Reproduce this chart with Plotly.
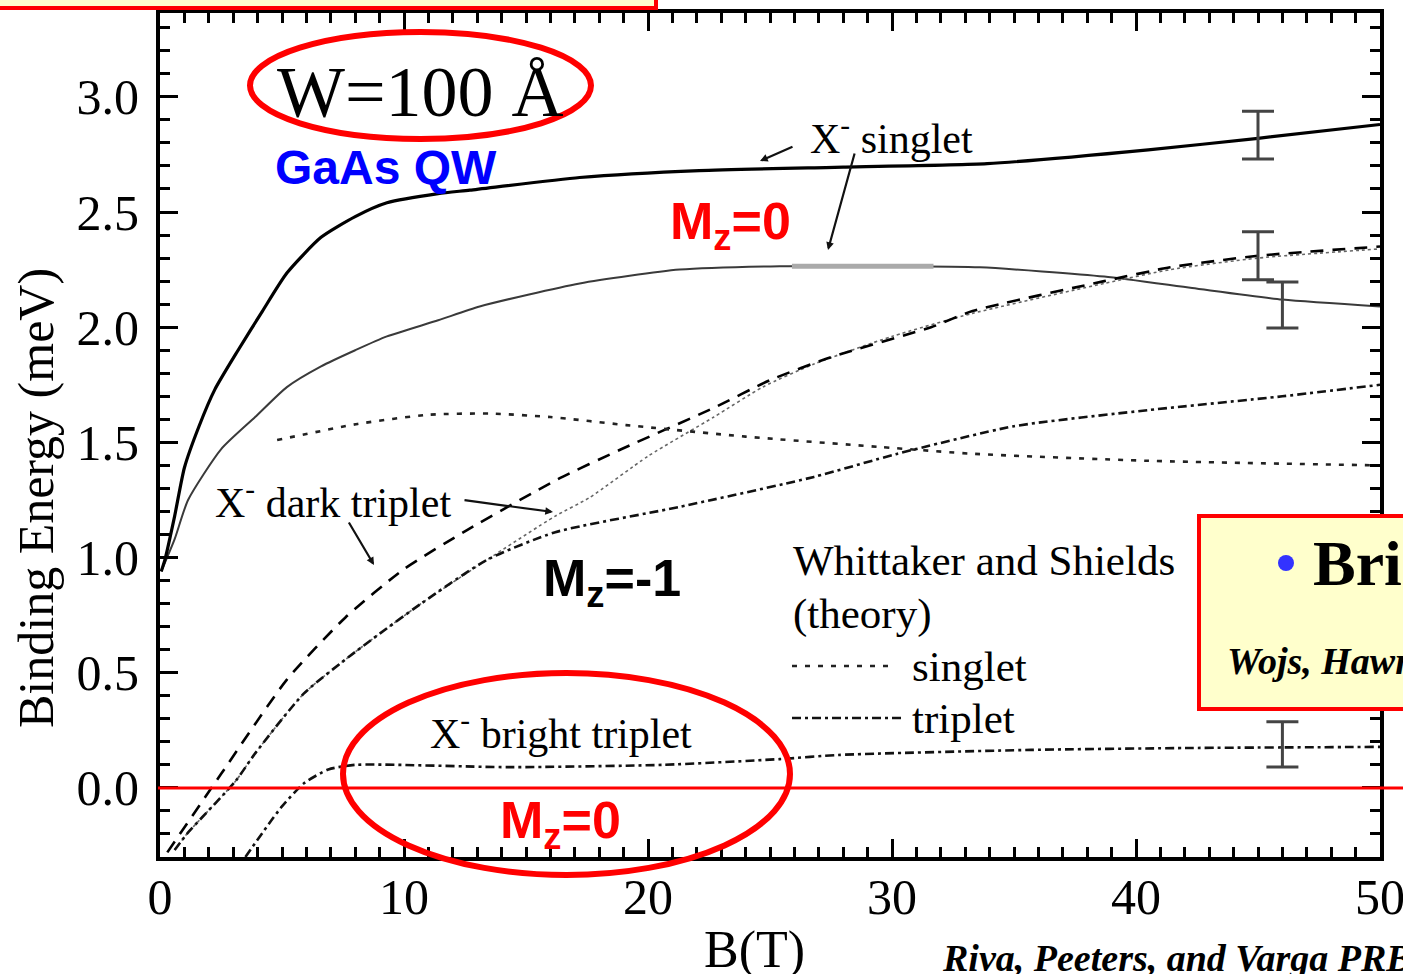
import plotly.graph_objects as go

# ---------------- data ----------------
B_singlet = [0.05, 0.2, 0.6, 1.0, 1.6, 2.25, 3.2, 4.2, 5.2, 6.6, 8.0, 9.3, 11.4, 12.7, 17.2, 22.1, 28.0, 33.9, 40.5, 45.0, 50.0]
E_singlet = [0.94, 0.99, 1.18, 1.39, 1.57, 1.73, 1.90, 2.07, 2.235, 2.39, 2.48, 2.54, 2.58, 2.595, 2.65, 2.68, 2.695, 2.71, 2.77, 2.82, 2.88]

B_thin = [0.05, 0.6, 1.15, 2.5, 3.9, 5.2, 6.6, 8.0, 9.3, 11.4, 13.1, 17.2, 21.3, 25.4, 30.0, 33.6, 38.7, 42.3, 46.0, 50.0]
E_thin = [0.94, 1.08, 1.25, 1.47, 1.61, 1.74, 1.83, 1.90, 1.96, 2.03, 2.09, 2.19, 2.25, 2.265, 2.265, 2.26, 2.22, 2.17, 2.12, 2.09]

B_thin_hl = [25.9, 31.7]
E_thin_hl = [2.265, 2.265]

B_dark = [0.3, 2.5, 5.2, 7.6, 10.0, 12.6, 16.3, 18.9, 22.7, 25.0, 27.5, 31.6, 33.3, 38.7, 41.4, 45.0, 50.0]
E_dark = [-0.28, 0.06, 0.47, 0.74, 0.95, 1.12, 1.34, 1.47, 1.65, 1.77, 1.87, 2.00, 2.07, 2.20, 2.26, 2.31, 2.35]

B_gray = [0.6, 1.1, 3.1, 3.9, 5.9, 8.0, 10.7, 13.4, 16.2, 17.6, 20.0, 22.7, 24.7, 26.8, 30.0, 33.3, 38.7, 41.4, 45.0, 50.0]
E_gray = [-0.27, -0.20, 0.03, 0.15, 0.41, 0.59, 0.80, 0.99, 1.18, 1.26, 1.44, 1.61, 1.74, 1.84, 1.96, 2.06, 2.19, 2.25, 2.30, 2.34]

B_ws_singlet = [4.8, 8.1, 11.0, 13.5, 16.0, 19.1, 24.0, 29.5, 33.4, 40.5, 50.0]
E_ws_singlet = [1.51, 1.58, 1.62, 1.625, 1.61, 1.575, 1.525, 1.48, 1.45, 1.42, 1.40]

B_ws_triplet = [0.6, 1.1, 3.1, 3.9, 5.9, 8.0, 10.7, 13.4, 16.2, 21.3, 26.8, 30.2, 35.0, 40.5, 46.0, 50.0]
E_ws_triplet = [-0.27, -0.20, 0.03, 0.15, 0.41, 0.59, 0.80, 0.99, 1.11, 1.22, 1.35, 1.45, 1.57, 1.64, 1.70, 1.75]

B_bright = [3.5, 5.0, 5.9, 6.9, 8.0, 14.3, 20.6, 25.4, 27.8, 35.7, 42.0, 50.0]
E_bright = [-0.30, -0.08, 0.02, 0.08, 0.10, 0.09, 0.10, 0.125, 0.143, 0.165, 0.173, 0.178]

EB_B = [45.0, 45.0, 46.0, 46.0]
EB_E = [2.834, 2.31, 2.096, 0.189]
EB_err = [0.104, 0.104, 0.10, 0.098]

x_ticks = [0, 10, 20, 30, 40, 50]
y_ticks = [0.0, 0.5, 1.0, 1.5, 2.0, 2.5, 3.0]
y_ticklabels = ["0.0", "0.5", "1.0", "1.5", "2.0", "2.5", "3.0"]

# ---------------- layout helpers (pixel -> paper) ----------------
W, H = 1403, 974
L, R, T, Bm = 160, 23, 13, 117
PW = W - L - R
PH = H - T - Bm


def PX(px):
    return (px - L) / PW


def PY(py):
    return (H - Bm - py) / PH


SERIF = "Liberation Serif"
SANS = "Liberation Sans"

fig = go.Figure()


def curve(xs, ys, color, width, dash=None):
    fig.add_trace(go.Scatter(x=xs, y=ys, mode="lines",
                             line=dict(color=color, width=width, dash=dash, shape="spline", smoothing=0.6),
                             hoverinfo="skip"))


curve(B_thin, E_thin, "#3a3a3a", 2)
fig.add_trace(go.Scatter(x=B_thin_hl, y=E_thin_hl, mode="lines",
                         line=dict(color="#aaaaaa", width=5), hoverinfo="skip"))
curve(B_singlet, E_singlet, "black", 3.2)
curve(B_gray, E_gray, "#666666", 1.6, "3px,3px")
curve(B_dark, E_dark, "black", 2.6, "13px,9px")
curve(B_ws_singlet, E_ws_singlet, "#222222", 2.6, "5px,8px")
curve(B_ws_triplet, E_ws_triplet, "#111111", 2.6, "9px,4px,3px,4px")
curve(B_bright, E_bright, "#111111", 2.6, "9px,4px,3px,4px")
fig.add_trace(go.Scatter(x=EB_B, y=EB_E, mode="markers",
                         marker=dict(size=1, color="rgba(0,0,0,0)"),
                         error_y=dict(type="data", array=EB_err, visible=True,
                                      color="#444444", thickness=3, width=16),
                         hoverinfo="skip"))

axis_common = dict(
    showline=True, linecolor="black", linewidth=4, mirror="allticks",
    ticks="inside", ticklen=18, tickwidth=3, tickcolor="black",
    showgrid=False, zeroline=False, ticklabeloverflow="allow", automargin=False,
    tickfont=dict(family=SERIF, size=50, color="black"),
)

fig.update_xaxes(range=[0, 50], tickvals=x_ticks, ticktext=[str(v) for v in x_ticks],
                 minor=dict(ticks="inside", ticklen=10, tickwidth=3, dtick=1, tickcolor="black", showgrid=False),
                 ticklabelstandoff=-7, **axis_common)
fig.update_yaxes(range=[-0.30, 3.364], tickvals=y_ticks, ticktext=y_ticklabels,
                 minor=dict(ticks="inside", ticklen=10, tickwidth=3, dtick=0.1, tickcolor="black", showgrid=False),
                 ticklabelstandoff=7, **axis_common)

shapes = []
# yellow boxes
shapes.append(dict(type="rect", xref="paper", yref="paper",
                   x0=PX(-10), x1=PX(656), y0=PY(8), y1=PY(-20),
                   fillcolor="#FFFFCC", line=dict(color="red", width=4), layer="above"))
shapes.append(dict(type="rect", xref="paper", yref="paper",
                   x0=PX(1199), x1=PX(1440), y0=PY(709), y1=PY(516),
                   fillcolor="#FFFFCC", line=dict(color="red", width=4), layer="above"))
# bullet
shapes.append(dict(type="circle", xref="paper", yref="paper",
                   x0=PX(1278), x1=PX(1294), y0=PY(571), y1=PY(555),
                   fillcolor="#3333FF", line=dict(width=0), layer="above"))
# red zero line
shapes.append(dict(type="line", xref="paper", yref="y", x0=PX(158), x1=PX(1410), y0=0, y1=0,
                   line=dict(color="red", width=3), layer="above"))
# ellipses
shapes.append(dict(type="circle", xref="paper", yref="paper",
                   x0=PX(250), x1=PX(591), y0=PY(139), y1=PY(32),
                   line=dict(color="red", width=6), layer="above"))
shapes.append(dict(type="circle", xref="paper", yref="paper",
                   x0=PX(343), x1=PX(790), y0=PY(875), y1=PY(673),
                   line=dict(color="red", width=6), layer="above"))
# legend samples
shapes.append(dict(type="line", xref="paper", yref="paper", x0=PX(792), x1=PX(890), y0=PY(666), y1=PY(666),
                   line=dict(color="#222222", width=2.6, dash="5px,8px")))
shapes.append(dict(type="line", xref="paper", yref="paper", x0=PX(792), x1=PX(902), y0=PY(718), y1=PY(718),
                   line=dict(color="#111111", width=2.6, dash="9px,4px,3px,4px")))

ann = []


def txt(text, px, py, size, family=SERIF, color="black", xanchor="left", yanchor="middle", angle=0):
    ann.append(dict(text=text, x=PX(px), y=PY(py), xref="paper", yref="paper",
                    xanchor=xanchor, yanchor=yanchor, showarrow=False, textangle=angle,
                    font=dict(family=family, size=size, color=color)))


txt("W=100 Å", 420, 92, 72, xanchor="center")
txt("<b>GaAs QW</b>", 386, 168, 48, family=SANS, color="#0000FF", xanchor="center")
txt("<b>M<sub>z</sub>=0</b>", 668, 225, 52, family=SANS, color="red")
txt("X<sup>-</sup> singlet", 808, 135, 42)
txt("X<sup>-</sup> dark triplet", 213, 500, 42)
txt("<b>M<sub>z</sub>=-1</b>", 541, 582, 52, family=SANS)
txt("Whittaker and Shields", 791, 561, 43)
txt("(theory)", 791, 614, 43)
txt("singlet", 910, 666, 43)
txt("triplet", 910, 718, 43)
txt("X<sup>-</sup> bright triplet", 428, 730, 42)
txt("<b>M<sub>z</sub>=0</b>", 498, 824, 52, family=SANS, color="red")
txt("<b>Bri</b>", 1311, 563, 64)
txt("<b><i>Wojs, Hawr</i></b>", 1225, 661, 38)
txt("<b><i>Riva, Peeters, and Varga PRB</i></b>", 940, 958, 38)
txt("B(T)", 754, 950, 52, xanchor="center")
txt("Binding Energy (meV)", 36, 498, 50, xanchor="center", angle=-90)


def arrow(tail_px, head_px):
    # convert pixel positions to data coordinates of the axes
    def bx(px):
        return (px - L) / PW * 50.0

    def ey(py):
        return -0.30 + (H - Bm - py) / PH * 3.664
    ann.append(dict(text="", x=bx(head_px[0]), y=ey(head_px[1]), ax=bx(tail_px[0]), ay=ey(tail_px[1]),
                    xref="x", yref="y", axref="x", ayref="y", showarrow=True,
                    arrowhead=2, arrowsize=0.7, arrowwidth=2.2, arrowcolor="#111111"))


arrow((794, 146), (760, 161))
arrow((855, 152), (828, 250))
arrow((463, 500), (553, 512))
arrow((348, 521), (374, 565))

fig.update_layout(
    width=W, height=H,
    margin=dict(l=L, r=R, t=T, b=Bm, autoexpand=False),
    paper_bgcolor="white", plot_bgcolor="white",
    showlegend=False,
    shapes=shapes, annotations=ann,
)

fig.write_html("out.html", config={"displayModeBar": False},
               post_script="document.body.style.margin='0';document.body.style.overflow='hidden';")
